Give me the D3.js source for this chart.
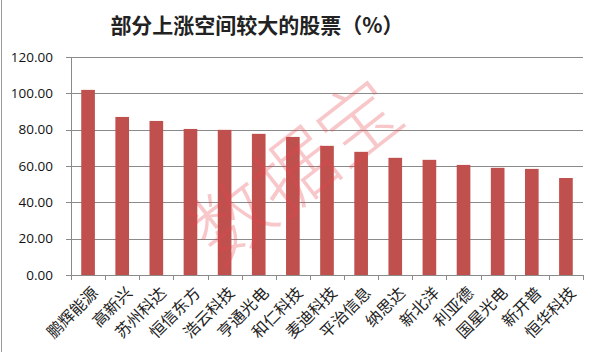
<!DOCTYPE html>
<html>
<head>
<meta charset="utf-8">
<script src="https://cdn.jsdelivr.net/npm/d3@7"></script>
<style>
  body { margin: 0; background: #fff; }
  svg { display: block; }
</style>
</head>
<body>
<div id="plot"></div>
<script>
// Chart data
var names = ["鹏辉能源", "高新兴", "苏州科达", "恒信东方", "浩云科技", "亨通光电", "和仁科技",
  "麦迪科技", "平治信息", "纳思达", "新北洋", "利亚德", "国星光电", "新开普", "恒华科技"];
var values = [101.9, 87.0, 84.8, 80.4, 79.9, 77.7, 76.0, 71.1, 67.8, 64.5, 63.4, 60.6, 59.0, 58.4, 53.4];
var yTicks = [0, 20, 40, 60, 80, 100, 120];

var svgWidth = 596;
var svgHeight = 352;

var margin = { top: 57, right: 13, bottom: 77, left: 71 };
var width = svgWidth - margin.left - margin.right;
var height = svgHeight - margin.top - margin.bottom;

var svg = d3.select("#plot")
  .append("svg")
  .attr("width", svgWidth)
  .attr("height", svgHeight);

// frame line on the left edge
svg.append("line")
  .attr("x1", 1.5).attr("x2", 1.5)
  .attr("y1", 0).attr("y2", svgHeight)
  .attr("stroke", "#9a9a9a");

// title
svg.append("text")
  .attr("x", 257)
  .attr("y", 33)
  .attr("text-anchor", "middle")
  .style("font-family", "'Noto Sans CJK SC', sans-serif")
  .style("font-size", "21px")
  .style("font-weight", "bold")
  .style("fill", "#222")
  .text("部分上涨空间较大的股票（%）");

var chartGroup = svg.append("g")
  .attr("transform", `translate(${margin.left}, ${margin.top})`);

var xScale = d3.scaleBand()
  .domain(names)
  .range([0, width])
  .paddingInner(0.6)
  .paddingOuter(0.3);

var yScale = d3.scaleLinear()
  .domain([0, 120])
  .range([height, 0]);

// gridlines
chartGroup.selectAll(".grid")
  .data(yTicks)
  .enter()
  .append("line")
  .attr("class", "grid")
  .attr("x1", -5)
  .attr("x2", width)
  .attr("y1", d => Math.round(yScale(d)) + 0.5)
  .attr("y2", d => Math.round(yScale(d)) + 0.5)
  .attr("stroke", "#8a8a8a");

// left axis
var leftAxis = d3.axisLeft(yScale)
  .tickValues(yTicks)
  .tickFormat(d3.format(".2f"))
  .tickSize(0)
  .tickPadding(18);

var yAxis = chartGroup.append("g").call(leftAxis);
yAxis.select(".domain").attr("stroke", "#8a8a8a");
yAxis.selectAll("text")
  .style("font-family", "'Open Sans', sans-serif")
  .style("font-size", "13.5px")
  .style("fill", "#111");

// bars
chartGroup.selectAll("rect.bar")
  .data(values)
  .enter()
  .append("rect")
  .attr("class", "bar")
  .attr("x", (d, i) => xScale(names[i]))
  .attr("width", xScale.bandwidth())
  .attr("y", d => yScale(d))
  .attr("height", d => height - yScale(d))
  .attr("fill", "#c0504d");

// bottom axis: ticks at category boundaries
var xBounds = d3.range(names.length + 1).map(i => (width / names.length) * i);
chartGroup.selectAll(".xtick")
  .data(xBounds)
  .enter()
  .append("line")
  .attr("class", "xtick")
  .attr("x1", d => Math.round(d) + 0.5)
  .attr("x2", d => Math.round(d) + 0.5)
  .attr("y1", height)
  .attr("y2", height + 5)
  .attr("stroke", "#8a8a8a");

// rotated category labels
chartGroup.selectAll(".xlabel")
  .data(names)
  .enter()
  .append("text")
  .attr("class", "xlabel")
  .attr("text-anchor", "end")
  .attr("transform", d => `translate(${xScale(d) + xScale.bandwidth() / 2 + 11}, ${height + 19}) rotate(-45)`)
  .style("font-family", "'Noto Sans CJK SC', sans-serif")
  .style("font-size", "16px")
  .style("fill", "#222")
  .text(d => d);

// watermark
svg.append("text")
  .attr("transform", "translate(296, 172) rotate(-38)")
  .attr("text-anchor", "middle")
  .attr("dy", "0.35em")
  .style("font-family", "'Noto Sans CJK SC', sans-serif")
  .style("font-size", "80px")
  .style("font-weight", "300")
  .style("fill", "rgba(232, 70, 80, 0.3)")
  .text("数据宝");
</script>
</body>
</html>
